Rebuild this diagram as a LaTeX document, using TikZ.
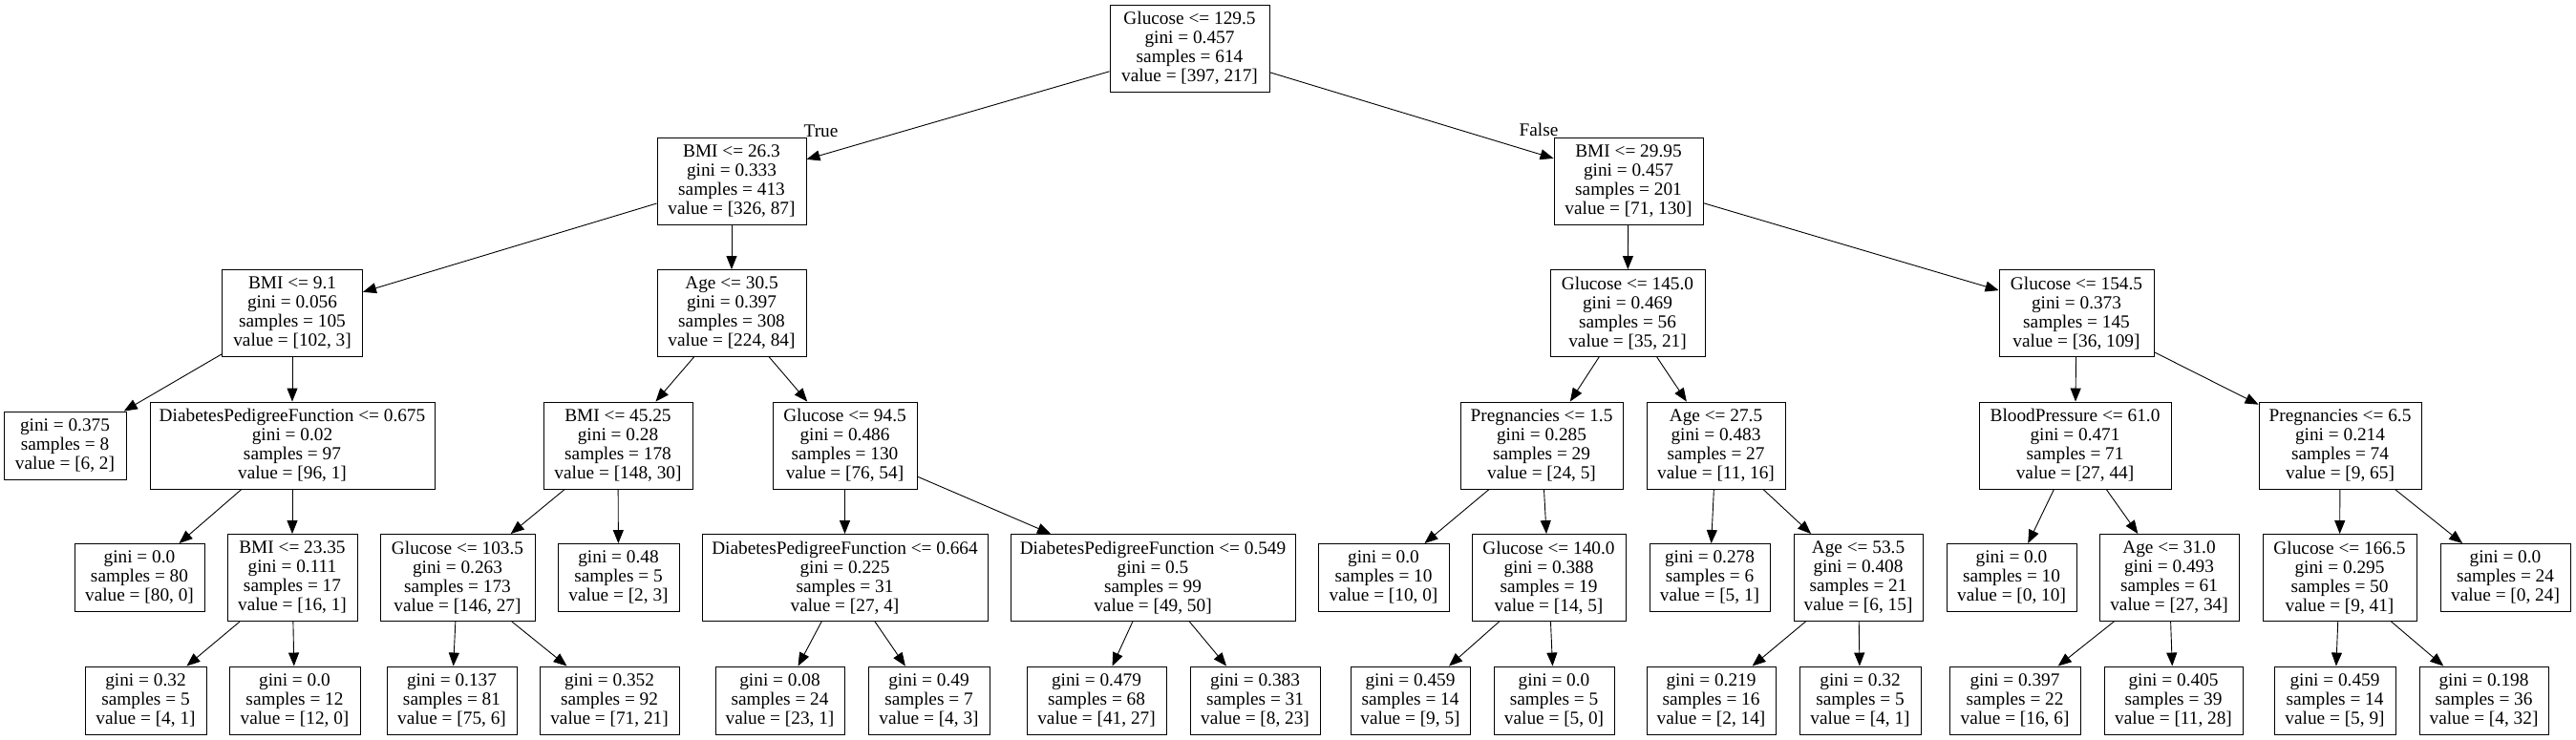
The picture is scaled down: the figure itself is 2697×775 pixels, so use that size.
\documentclass[tikz,border=0pt]{standalone}
\usepackage{fontspec}
\setmainfont{Liberation Serif}
\usetikzlibrary{arrows.meta}
\newcommand\gvfont{\fontsize{19.3}{20}\selectfont}
\tikzset{
  box/.style={draw=black, line width=0.9pt, inner sep=0pt, align=center, font=\gvfont, fill=white},
  four/.style={box, minimum height=91pt},
  three/.style={box, minimum height=71pt},
  edge/.style={draw=black, line width=0.9pt, -{Triangle[length=14pt, width=11pt]}},
  elabel/.style={font=\gvfont, inner sep=0pt}
}
\begin{document}
\begin{tikzpicture}[x=1pt, y=-1pt]
\useasboundingbox[fill=white] (0,0) rectangle (2697,775);
% level 0
\node[four, minimum width=167pt] (r) at (1245.5,50.5) {Glucose <= 129.5\\gini = 0.457\\samples = 614\\value = [397, 217]};
% level 1
\node[four, minimum width=156pt] (a) at (766,189.5) {BMI <= 26.3\\gini = 0.333\\samples = 413\\value = [326, 87]};
\node[four, minimum width=156pt] (b) at (1705,189.5) {BMI <= 29.95\\gini = 0.457\\samples = 201\\value = [71, 130]};
% level 2
\node[four, minimum width=147pt] (aa) at (306,328) {BMI <= 9.1\\gini = 0.056\\samples = 105\\value = [102, 3]};
\node[four, minimum width=156pt] (ab) at (766,328) {Age <= 30.5\\gini = 0.397\\samples = 308\\value = [224, 84]};
\node[four, minimum width=162pt] (ba) at (1704,328) {Glucose <= 145.0\\gini = 0.469\\samples = 56\\value = [35, 21]};
\node[four, minimum width=162pt] (bb) at (2174,328) {Glucose <= 154.5\\gini = 0.373\\samples = 145\\value = [36, 109]};
% level 3
\node[three, minimum width=128pt] (aaa) at (68,466.5) {gini = 0.375\\samples = 8\\value = [6, 2]};
\node[four, minimum width=298pt] (aab) at (306,466.5) {DiabetesPedigreeFunction <= 0.675\\gini = 0.02\\samples = 97\\value = [96, 1]};
\node[four, minimum width=156pt] (aba) at (647,466.5) {BMI <= 45.25\\gini = 0.28\\samples = 178\\value = [148, 30]};
\node[four, minimum width=151pt] (abb) at (884.5,466.5) {Glucose <= 94.5\\gini = 0.486\\samples = 130\\value = [76, 54]};
\node[four, minimum width=170pt] (baa) at (1614,466.5) {Pregnancies <= 1.5\\gini = 0.285\\samples = 29\\value = [24, 5]};
\node[four, minimum width=145pt] (bab) at (1796.5,466.5) {Age <= 27.5\\gini = 0.483\\samples = 27\\value = [11, 16]};
\node[four, minimum width=201pt] (bba) at (2172.5,466.5) {BloodPressure <= 61.0\\gini = 0.471\\samples = 71\\value = [27, 44]};
\node[four, minimum width=170pt] (bbb) at (2450,466.5) {Pregnancies <= 6.5\\gini = 0.214\\samples = 74\\value = [9, 65]};
% level 4
\node[three, minimum width=136pt] (aaba) at (146,605) {gini = 0.0\\samples = 80\\value = [80, 0]};
\node[four, minimum width=136pt] (aabb) at (306,605) {BMI <= 23.35\\gini = 0.111\\samples = 17\\value = [16, 1]};
\node[four, minimum width=162pt] (abaa) at (479,605) {Glucose <= 103.5\\gini = 0.263\\samples = 173\\value = [146, 27]};
\node[three, minimum width=127pt] (abab) at (647.5,605) {gini = 0.48\\samples = 5\\value = [2, 3]};
\node[four, minimum width=299pt] (abba) at (884.5,605) {DiabetesPedigreeFunction <= 0.664\\gini = 0.225\\samples = 31\\value = [27, 4]};
\node[four, minimum width=298pt] (abbb) at (1207,605) {DiabetesPedigreeFunction <= 0.549\\gini = 0.5\\samples = 99\\value = [49, 50]};
\node[three, minimum width=137pt] (baaa) at (1448.5,605) {gini = 0.0\\samples = 10\\value = [10, 0]};
\node[four, minimum width=161pt] (baab) at (1621.5,605) {Glucose <= 140.0\\gini = 0.388\\samples = 19\\value = [14, 5]};
\node[three, minimum width=126pt] (baba) at (1790,605) {gini = 0.278\\samples = 6\\value = [5, 1]};
\node[four, minimum width=135pt] (babb) at (1945.5,605) {Age <= 53.5\\gini = 0.408\\samples = 21\\value = [6, 15]};
\node[three, minimum width=136pt] (bbaa) at (2106,605) {gini = 0.0\\samples = 10\\value = [0, 10]};
\node[four, minimum width=146pt] (bbab) at (2271,605) {Age <= 31.0\\gini = 0.493\\samples = 61\\value = [27, 34]};
\node[four, minimum width=161pt] (bbba) at (2449.5,605) {Glucose <= 166.5\\gini = 0.295\\samples = 50\\value = [9, 41]};
\node[three, minimum width=136pt] (bbbb) at (2623,605) {gini = 0.0\\samples = 24\\value = [0, 24]};
% level 5
\node[three, minimum width=127pt] (aabba) at (152.5,733.5) {gini = 0.32\\samples = 5\\value = [4, 1]};
\node[three, minimum width=137pt] (aabbb) at (308.5,733.5) {gini = 0.0\\samples = 12\\value = [12, 0]};
\node[three, minimum width=136pt] (abaaa) at (473,733.5) {gini = 0.137\\samples = 81\\value = [75, 6]};
\node[three, minimum width=146pt] (abaab) at (638,733.5) {gini = 0.352\\samples = 92\\value = [71, 21]};
\node[three, minimum width=135pt] (abbaa) at (816.5,733.5) {gini = 0.08\\samples = 24\\value = [23, 1]};
\node[three, minimum width=127pt] (abbab) at (972.5,733.5) {gini = 0.49\\samples = 7\\value = [4, 3]};
\node[three, minimum width=146pt] (abbba) at (1148,733.5) {gini = 0.479\\samples = 68\\value = [41, 27]};
\node[three, minimum width=136pt] (abbbb) at (1314,733.5) {gini = 0.383\\samples = 31\\value = [8, 23]};
\node[three, minimum width=125pt] (baaba) at (1476.5,733.5) {gini = 0.459\\samples = 14\\value = [9, 5]};
\node[three, minimum width=126pt] (baabb) at (1627,733.5) {gini = 0.0\\samples = 5\\value = [5, 0]};
\node[three, minimum width=135pt] (babba) at (1791.5,733.5) {gini = 0.219\\samples = 16\\value = [2, 14]};
\node[three, minimum width=127pt] (babbb) at (1947.5,733.5) {gini = 0.32\\samples = 5\\value = [4, 1]};
\node[three, minimum width=137pt] (bbaba) at (2109.5,733.5) {gini = 0.397\\samples = 22\\value = [16, 6]};
\node[three, minimum width=145pt] (bbabb) at (2275.5,733.5) {gini = 0.405\\samples = 39\\value = [11, 28]};
\node[three, minimum width=127pt] (bbbaa) at (2444.5,733.5) {gini = 0.459\\samples = 14\\value = [5, 9]};
\node[three, minimum width=135pt] (bbbab) at (2600.5,733.5) {gini = 0.198\\samples = 36\\value = [4, 32]};
% edges
\draw[edge] (r) -- (a);
\draw[edge] (r) -- (b);
\node[elabel] (tl) at (859.5,137) {True};
\node[elabel] (fl) at (1611,136) {False};
\draw[edge] (a) -- (aa);
\draw[edge] (a) -- (ab);
\draw[edge] (b) -- (ba);
\draw[edge] (b) -- (bb);
\draw[edge] (aa) -- (aaa);
\draw[edge] (aa) -- (aab);
\draw[edge] (ab) -- (aba);
\draw[edge] (ab) -- (abb);
\draw[edge] (ba) -- (baa);
\draw[edge] (ba) -- (bab);
\draw[edge] (bb) -- (bba);
\draw[edge] (bb) -- (bbb);
\draw[edge] (aab) -- (aaba);
\draw[edge] (aab) -- (aabb);
\draw[edge] (aba) -- (abaa);
\draw[edge] (aba) -- (abab);
\draw[edge] (abb) -- (abba);
\draw[edge] (abb) -- (abbb);
\draw[edge] (baa) -- (baaa);
\draw[edge] (baa) -- (baab);
\draw[edge] (bab) -- (baba);
\draw[edge] (bab) -- (babb);
\draw[edge] (bba) -- (bbaa);
\draw[edge] (bba) -- (bbab);
\draw[edge] (bbb) -- (bbba);
\draw[edge] (bbb) -- (bbbb);
\draw[edge] (aabb) -- (aabba);
\draw[edge] (aabb) -- (aabbb);
\draw[edge] (abaa) -- (abaaa);
\draw[edge] (abaa) -- (abaab);
\draw[edge] (abba) -- (abbaa);
\draw[edge] (abba) -- (abbab);
\draw[edge] (abbb) -- (abbba);
\draw[edge] (abbb) -- (abbbb);
\draw[edge] (baab) -- (baaba);
\draw[edge] (baab) -- (baabb);
\draw[edge] (babb) -- (babba);
\draw[edge] (babb) -- (babbb);
\draw[edge] (bbab) -- (bbaba);
\draw[edge] (bbab) -- (bbabb);
\draw[edge] (bbba) -- (bbbaa);
\draw[edge] (bbba) -- (bbbab);
\end{tikzpicture}
\end{document}
